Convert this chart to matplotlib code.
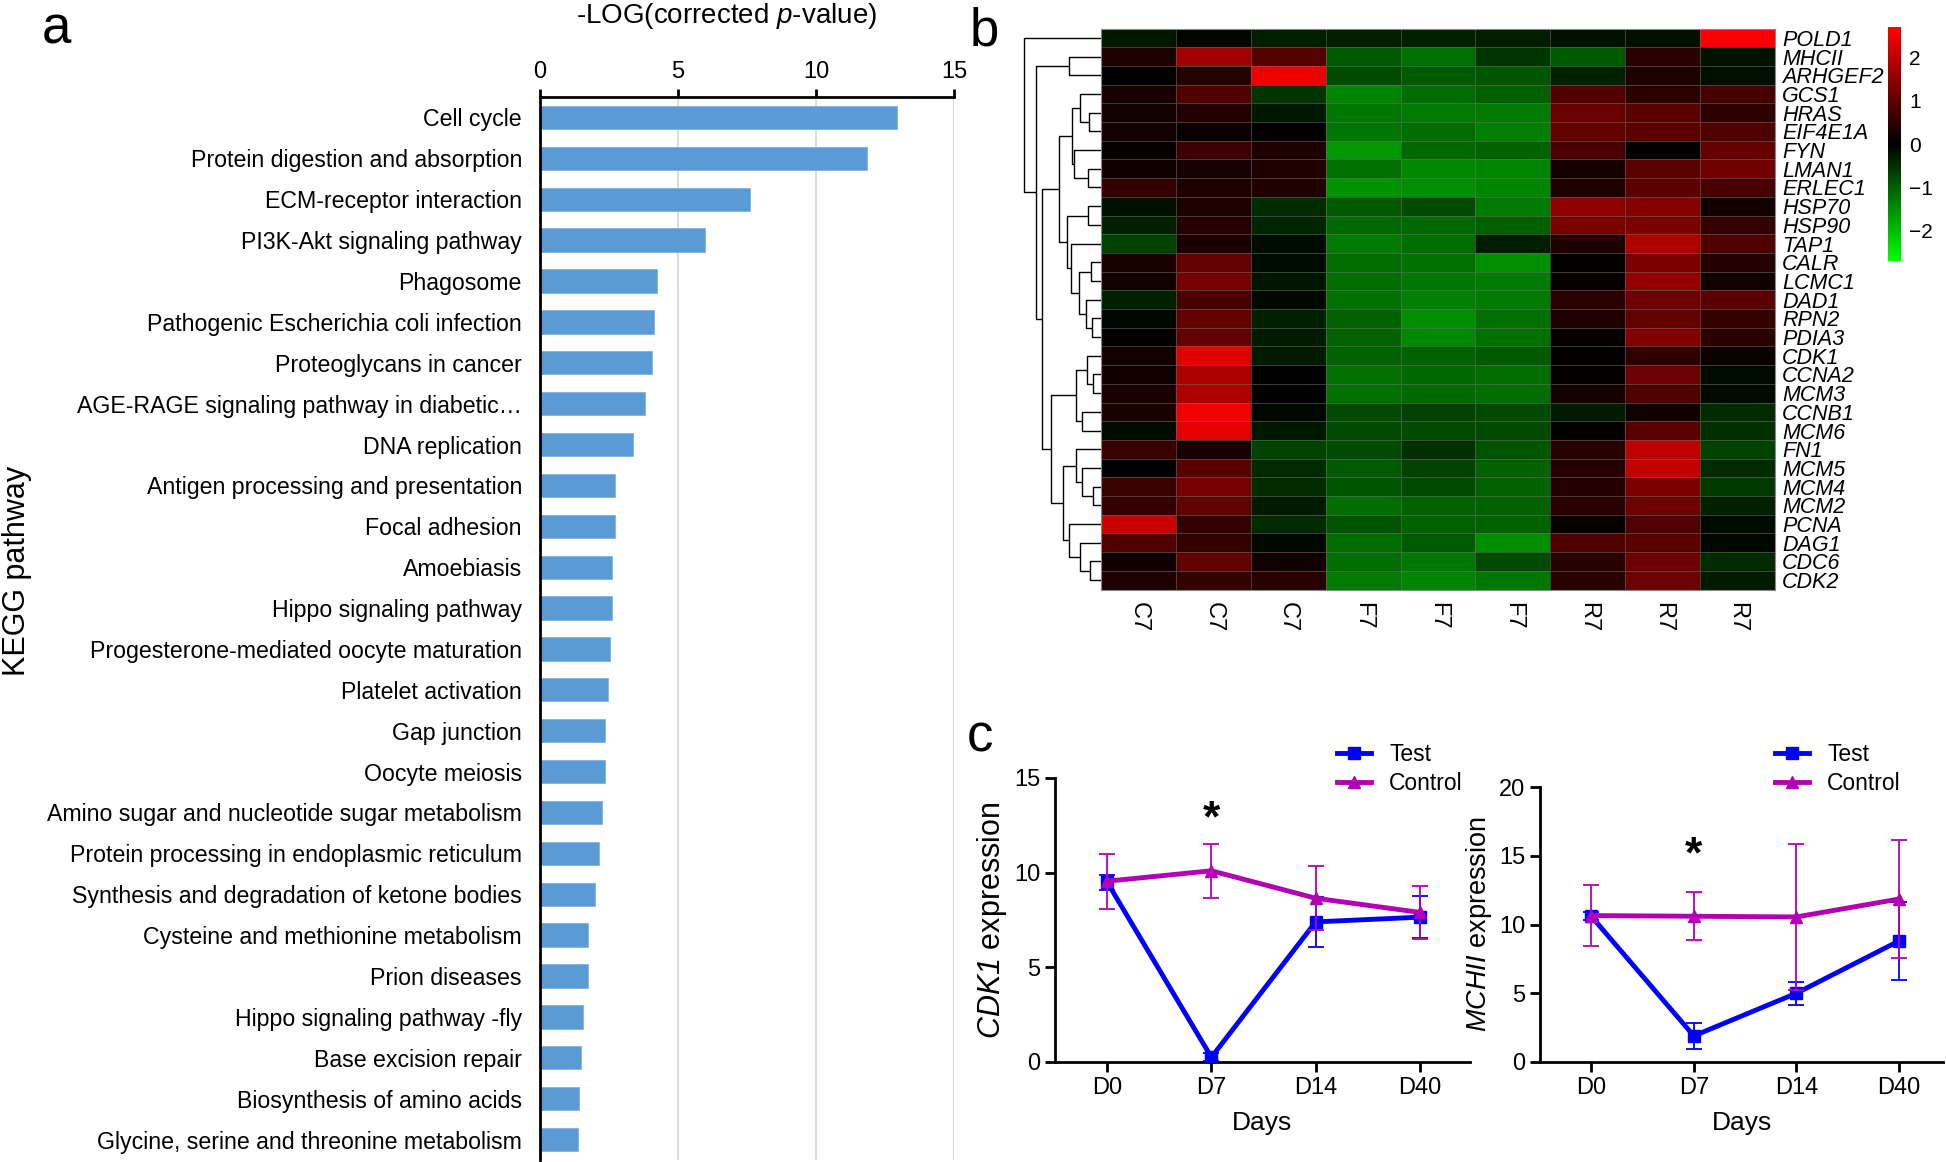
import numpy as np
import matplotlib
matplotlib.use('Agg')
import matplotlib.pyplot as plt
from matplotlib.colors import LinearSegmentedColormap, Normalize
from matplotlib.lines import Line2D

plt.rcParams['font.family'] = ['Liberation Sans', 'DejaVu Sans']
plt.rcParams['mathtext.fontset'] = 'custom'
# math parts are only used for italic gene names / p, so digits in them go italic too
plt.rcParams['mathtext.rm'] = 'Liberation Sans:italic'
plt.rcParams['mathtext.it'] = 'Liberation Sans:italic'
NARROW = ['Liberation Sans Narrow', 'Liberation Sans']

#-- Panel a: KEGG enrichment
pathways = ['Cell cycle', 'Protein digestion and absorption', 'ECM-receptor interaction',
            'PI3K-Akt signaling pathway', 'Phagosome', 'Pathogenic Escherichia coli infection',
            'Proteoglycans in cancer', 'AGE-RAGE signaling pathway in diabetic\u2026',
            'DNA replication', 'Antigen processing and presentation', 'Focal adhesion',
            'Amoebiasis', 'Hippo signaling pathway', 'Progesterone-mediated oocyte maturation',
            'Platelet activation', 'Gap junction', 'Oocyte meiosis',
            'Amino sugar and nucleotide sugar metabolism',
            'Protein processing in endoplasmic reticulum',
            'Synthesis and degradation of ketone bodies',
            'Cysteine and methionine metabolism', 'Prion diseases',
            'Hippo signaling pathway -fly', 'Base excision repair',
            'Biosynthesis of amino acids', 'Glycine, serine and threonine metabolism']
neglogp = [12.95, 11.86, 7.62, 5.98, 4.23, 4.13, 4.06, 3.79, 3.36, 2.72, 2.72, 2.61, 2.61,
           2.55, 2.48, 2.34, 2.34, 2.25, 2.15, 1.98, 1.75, 1.75, 1.57, 1.47, 1.40, 1.36]

#-- Panel b: heatmap
genes = ['POLD1', 'MHCII', 'ARHGEF2', 'GCS1', 'HRAS', 'EIF4E1A', 'FYN', 'LMAN1', 'ERLEC1',
         'HSP70', 'HSP90', 'TAP1', 'CALR', 'LCMC1', 'DAD1', 'RPN2', 'PDIA3', 'CDK1', 'CCNA2',
         'MCM3', 'CCNB1', 'MCM6', 'FN1', 'MCM5', 'MCM4', 'MCM2', 'PCNA', 'DAG1', 'CDC6', 'CDK2']
samples = ['C7', 'C7', 'C7', 'F7', 'F7', 'F7', 'R7', 'R7', 'R7']
expr = [
    [-0.25, -0.05, -0.3, -0.3, -0.35, -0.3, -0.15, -0.15, 2.65],
    [0.3, 1.7, 0.9, -0.95, -1.2, -0.55, -0.95, 0.45, -0.2],
    [0.0, 0.4, 2.5, -0.8, -0.95, -0.9, -0.35, 0.3, -0.15],
    [0.25, 0.85, -0.55, -1.4, -1.15, -1.0, 0.85, 0.45, 0.75],
    [0.2, 0.4, -0.25, -1.25, -1.3, -1.3, 1.1, 0.95, 0.5],
    [0.2, 0.12, 0.05, -1.25, -1.15, -1.35, 1.05, 0.95, 0.85],
    [0.08, 0.65, 0.3, -1.6, -1.1, -1.05, 0.8, 0.0, 1.05],
    [0.18, 0.25, 0.35, -1.2, -1.45, -1.4, 0.22, 0.95, 1.2],
    [0.55, 0.3, 0.35, -1.55, -1.5, -1.4, 0.3, 0.95, 0.75],
    [-0.18, 0.3, -0.45, -0.95, -0.8, -1.3, 1.5, 1.4, 0.18],
    [-0.35, 0.4, -0.4, -1.1, -1.1, -1.0, 1.3, 1.3, 0.55],
    [-0.7, 0.28, -0.12, -1.3, -1.15, -0.3, 0.32, 1.85, 0.85],
    [0.28, 1.05, -0.12, -1.15, -1.2, -1.5, 0.05, 1.3, 0.38],
    [0.18, 1.25, -0.22, -1.15, -1.25, -1.3, 0.08, 1.55, 0.18],
    [-0.35, 0.75, -0.1, -1.2, -1.35, -1.3, 0.45, 1.15, 0.95],
    [-0.08, 1.05, -0.35, -1.05, -1.5, -1.2, 0.32, 1.05, 0.55],
    [0.04, 1.05, -0.28, -1.05, -1.45, -1.2, 0.08, 1.35, 0.45],
    [0.18, 2.35, -0.28, -1.05, -1.05, -0.95, 0.05, 0.5, 0.12],
    [0.18, 1.8, 0.0, -1.2, -1.1, -1.15, 0.05, 1.15, -0.12],
    [0.28, 1.8, 0.0, -1.2, -1.1, -1.15, 0.22, 0.85, -0.12],
    [0.28, 2.55, -0.08, -0.8, -0.7, -0.8, -0.28, 0.18, -0.45],
    [-0.12, 2.4, -0.25, -0.8, -0.8, -0.8, 0.05, 0.95, -0.5],
    [0.6, 0.28, -0.7, -0.8, -0.5, -0.9, 0.42, 2.0, -0.7],
    [0.0, 0.95, -0.45, -0.95, -0.7, -1.05, 0.38, 2.05, -0.45],
    [0.6, 1.25, -0.45, -0.9, -0.8, -1.05, 0.38, 1.3, -0.6],
    [0.55, 1.05, -0.28, -1.15, -1.05, -1.05, 0.45, 1.15, -0.35],
    [2.1, 0.55, -0.45, -0.9, -1.05, -1.05, 0.08, 0.85, -0.12],
    [0.85, 0.55, -0.08, -1.15, -0.95, -1.5, 0.85, 0.95, -0.08],
    [0.18, 1.05, 0.18, -1.15, -1.25, -0.8, 0.42, 1.15, -0.45],
    [0.32, 0.55, 0.42, -1.3, -1.4, -1.25, 0.42, 1.15, -0.28],
]

# row dendrogram: (left, right, merge height), leaves are row indices
clusterA1 = ((3, (4, 5, 0.15), 0.27), (6, (7, 8, 0.17), 0.35), 0.38)
clusterA2 = ((9, 10, 0.17), (11, ((12, 13, 0.13), (14, (15, 16, 0.12), 0.19), 0.28), 0.39), 0.44)
clusterB1 = ((17, (18, 19, 0.11), 0.18), (20, 21, 0.25), 0.33)
clusterB2 = ((22, (23, (24, 25, 0.11), 0.25), 0.32), (26, (27, (28, 29, 0.14), 0.27), 0.42), 0.49)
tree = (0, ((1, 2, 0.42), ((clusterA1, clusterA2, 0.54), (clusterB1, clusterB2, 0.65), 0.76), 0.84), 1.0)

#-- Panel c: qPCR time course
days = ['D0', 'D7', 'D14', 'D40']
cdk1_test = [9.5, 0.25, 7.4, 7.65]
cdk1_test_err = [0.4, 0.2, 1.3, 1.1]
cdk1_ctrl = [9.55, 10.1, 8.65, 7.9]
cdk1_ctrl_err = [1.45, 1.42, 1.7, 1.38]
mchii_test = [10.6, 1.9, 5.0, 8.8]
mchii_test_err = [0.3, 0.95, 0.85, 2.85]
mchii_ctrl = [10.65, 10.6, 10.55, 11.85]
mchii_ctrl_err = [2.2, 1.75, 5.3, 4.3]

W, H = 1946, 1162
fig = plt.figure(figsize=(W / 100, H / 100), dpi=100)


def box(x0, y0, x1, y1):
    # pixel box (top-left origin) -> figure fraction
    return [x0 / W, 1 - y1 / H, (x1 - x0) / W, (y1 - y0) / H]


#-- a
ax = fig.add_axes(box(540, 97, 954, 1160))
ypos = np.arange(len(pathways))
ax.barh(ypos, neglogp, height=0.57, color='#5B9BD5', edgecolor='#7FB2E0', linewidth=0.6, zorder=2)
ax.set_xlim(0, 15)
ax.set_ylim(25.5, -0.5)
ax.xaxis.tick_top()
ax.set_xticks([0, 5, 10, 15])
ax.set_yticks(ypos, pathways)
ax.grid(axis='x', color='#D9D9D9', lw=1.3, zorder=0)
for s in ['right', 'bottom']:
    ax.spines[s].set_visible(False)
for s in ['top', 'left']:
    ax.spines[s].set_linewidth(2)
ax.tick_params(axis='x', direction='out', length=6, width=2, labelsize=17, pad=4)
ax.tick_params(axis='y', length=0, labelsize=16.7, pad=13)
for t in ax.get_xticklabels():
    t.set_family(NARROW)
fig.text(727 / W, 1 - 16 / H, r'-LOG(corrected $\it{p}$-value)', ha='center', va='center', fontsize=20)
fig.text(17 / W, 1 - 571 / H, 'KEGG pathway', rotation=90, ha='center', va='center', fontsize=22)

#-- b
cmap = LinearSegmentedColormap.from_list('gkr', ['#00FF00', '#000000', '#FF0000'])
norm = Normalize(-2.7, 2.7)
hm = fig.add_axes(box(1101, 28.5, 1775, 589.5))
mesh = hm.pcolormesh(np.array(expr), cmap=cmap, norm=norm,
                     edgecolors=(0.45, 0.45, 0.45, 0.5), linewidth=0.4)
hm.set_xlim(0, len(samples))
hm.set_ylim(len(genes), 0)
hm.yaxis.tick_right()
hm.set_yticks(np.arange(len(genes)) + 0.5, genes)
hm.set_xticks(np.arange(len(samples)) + 0.5, samples, rotation=270)
hm.tick_params(length=0)
hm.tick_params(axis='y', pad=5)
hm.tick_params(axis='x', pad=9, labelsize=17)
for t in hm.get_yticklabels():
    t.set_family(NARROW)
    t.set_style('italic')
    t.set_fontsize(15.5)
for s in hm.spines.values():
    s.set_color('#888888')
    s.set_linewidth(0.8)

dg = fig.add_axes(box(1020, 28.5, 1101, 589.5))
dg.set_ylim(len(genes), 0)
dg.set_xlim(1.05, 0)
dg.axis('off')


def draw(node):
    if isinstance(node, int):
        return node + 0.5, 0.0
    a, b, h = node
    ya, ha = draw(a)
    yb, hb = draw(b)
    dg.plot([ha, h, h, hb], [ya, ya, yb, yb], color='black', lw=1.0, solid_capstyle='butt')
    return (ya + yb) / 2, h


draw(tree)

cax = fig.add_axes(box(1888, 27, 1901, 261))
cb = fig.colorbar(mesh, cax=cax, ticks=[-2, -1, 0, 1, 2])
cb.outline.set_visible(False)
cax.tick_params(length=0, labelsize=15, pad=6)

#-- c
blue = '#0000FF'
mag = '#B400B4'
x = np.arange(len(days))


def line_panel(rect, test, test_err, ctrl, ctrl_err, ylim, gene, star_y, xmax, leg_x, ylab_size):
    a = fig.add_axes(box(*rect))
    a.errorbar(x, test, yerr=test_err, color=blue, lw=3.5, marker='s', ms=9,
               capsize=6, elinewidth=1.3, capthick=1.3, zorder=3)
    a.errorbar(x, ctrl, yerr=ctrl_err, color=mag, lw=3.5, marker='^', ms=9,
               capsize=6, elinewidth=1.3, capthick=1.3, zorder=4)
    a.set_xlim(-0.5, xmax)
    a.set_ylim(0, ylim)
    a.set_yticks(np.arange(0, ylim + 1, 5))
    a.set_xticks(x, days)
    for s in ['top', 'right']:
        a.spines[s].set_visible(False)
    for s in ['left', 'bottom']:
        a.spines[s].set_linewidth(2)
    a.tick_params(direction='out', length=7, width=2, labelsize=17)
    a.set_xlabel('Days', fontsize=19, labelpad=9)
    a.set_ylabel(r'$\it{%s}$ expression' % gene, fontsize=ylab_size, labelpad=4)
    a.text(1, star_y, '*', ha='center', va='center', fontsize=32, fontweight='bold')
    handles = [Line2D([], [], color=blue, lw=3.5, marker='s', ms=9),
               Line2D([], [], color=mag, lw=3.5, marker='^', ms=9)]
    fig.legend(handles, ['Test', 'Control'], loc='upper left', frameon=False, fontsize=16.5,
               bbox_to_anchor=(leg_x / W, 1 - 722 / H), handlelength=1.5,
               handletextpad=0.8, labelspacing=0.3)
    return a


line_panel((1055, 778, 1470, 1062), cdk1_test, cdk1_test_err, cdk1_ctrl, cdk1_ctrl_err,
           15, 'CDK1', 12.8, 3.48, 1316, 22)
line_panel((1540, 787, 1943, 1062), mchii_test, mchii_test_err, mchii_ctrl, mchii_ctrl_err,
           20, 'MCHII', 15.0, 3.43, 1754, 19.5)

#-- panel letters
fig.text(56 / W, 1 - 43 / H, 'a', ha='center', va='baseline', fontsize=38)
fig.text(984 / W, 1 - 46 / H, 'b', ha='center', va='baseline', fontsize=38)
fig.text(980 / W, 1 - 751 / H, 'c', ha='center', va='baseline', fontsize=38)

fig.savefig('out.png', dpi=100)
